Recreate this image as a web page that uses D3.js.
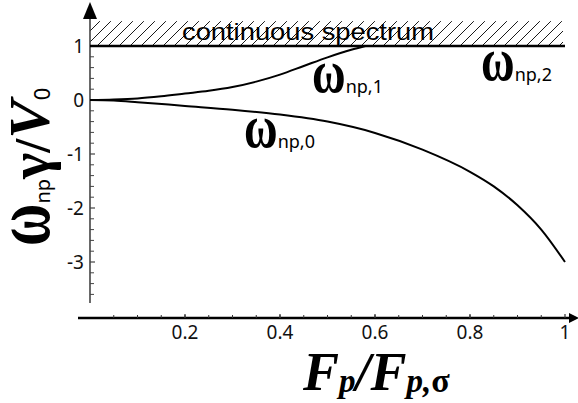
<!DOCTYPE html>
<html><head><meta charset="utf-8">
<script src="https://cdn.jsdelivr.net/npm/d3@7"></script>
<style>body{margin:0;background:#fff}svg{display:block}</style>
</head><body>
<script>
// ---- data ----
const F0 = [0, 0.05, 0.1, 0.2, 0.3, 0.4, 0.5, 0.6, 0.7, 0.8, 0.85, 0.9, 0.95, 1.0];
const w0 = [0, -0.01, -0.04, -0.11, -0.18, -0.27, -0.40, -0.61, -0.92, -1.33, -1.6, -1.95, -2.4, -3.0];
const F1 = [0, 0.05, 0.1, 0.15, 0.2, 0.25, 0.3, 0.35, 0.4, 0.45, 0.5, 0.55, 0.58];
const w1 = [0, 0.01, 0.03, 0.07, 0.12, 0.17, 0.24, 0.34, 0.47, 0.63, 0.79, 0.93, 1.0];
const F2 = [0, 1];
const w2 = [1, 1];
const xTickVals = [0.2, 0.4, 0.6, 0.8, 1];
const xTickLabels = ["0.2", "0.4", "0.6", "0.8", "1"];
const yTickVals = [1, 0, -1, -2, -3];
const yTickLabels = ["1", "0", "-1", "-2", "-3"];
const continuumTop = 1.46;

const W = 578, H = 403;
const svg = d3.select("body").append("svg").attr("width", W).attr("height", H);
const x = d3.scaleLinear().domain([0, 1]).range([90, 565]);
const y = d3.scaleLinear().domain([0, 1]).range([100, 46]);

// hatch pattern
const defs = svg.append("defs");
const pat = defs.append("pattern").attr("id", "hatch").attr("patternUnits", "userSpaceOnUse")
  .attr("width", 11).attr("height", 11);
pat.append("path").attr("d", "M0,11 L11,0 M-2,2 L2,-2 M9,13 L13,9")
  .attr("stroke", "#000").attr("stroke-width", 0.9).attr("fill", "none");
svg.append("rect").attr("x", x(0)).attr("y", y(continuumTop))
  .attr("width", x(1) - x(0) - 2).attr("height", y(1) - y(continuumTop))
  .attr("fill", "url(#hatch)");

svg.append("text").attr("x", 182).attr("y", 40)
  .attr("font-family", "Liberation Sans, Arial, sans-serif").attr("font-size", 24)
  .attr("textLength", 252).attr("lengthAdjust", "spacingAndGlyphs")
  .text("continuous spectrum");

// Y axis
const yMinor = d3.range(-18, 6).map(i => i * 0.2).filter(v => !yTickVals.some(t => Math.abs(t - v) < 1e-6));
const yAx = svg.append("g");
yAx.append("line").attr("x1", 90).attr("x2", 90).attr("y1", y(-3.76)).attr("y2", 16)
  .attr("stroke", "#444").attr("stroke-width", 1.6);
yAx.append("path").attr("d", `M90,2 L83,19 L97,19 Z`).attr("fill", "#000");
yAx.selectAll(".ymin").data(yMinor).join("line")
  .attr("x1", 90).attr("x2", 94).attr("y1", d => y(d)).attr("y2", d => y(d))
  .attr("stroke", "#444").attr("stroke-width", 1);
yAx.selectAll(".ymaj").data(yTickVals).join("line")
  .attr("x1", 90).attr("x2", 95).attr("y1", d => y(d)).attr("y2", d => y(d))
  .attr("stroke", "#444").attr("stroke-width", 1.2);
yAx.selectAll(".ylab").data(yTickVals).join("text")
  .attr("x", 84).attr("y", d => y(d)).attr("dy", "0.36em").attr("text-anchor", "end")
  .attr("font-family", "Noto Sans, Open Sans, sans-serif").attr("font-size", 19).attr("fill", "#111")
  .text((d, i) => yTickLabels[i]);

// X axis
const axY = 318;
const xMinor = d3.range(1, 20).map(i => i * 0.05);
svg.append("line").attr("x1", 78).attr("x2", 572).attr("y1", axY).attr("y2", axY)
  .attr("stroke", "#000").attr("stroke-width", 2.4);
svg.append("path").attr("d", `M579,${axY} L569,${axY-5} L569,${axY+5} Z`).attr("fill", "#000");
svg.selectAll(".xmin").data(xMinor).join("line")
  .attr("x1", d => x(d)).attr("x2", d => x(d)).attr("y1", axY).attr("y2", axY - 3)
  .attr("stroke", "#333").attr("stroke-width", 1);
svg.selectAll(".xmaj").data(xTickVals).join("line")
  .attr("x1", d => x(d)).attr("x2", d => x(d)).attr("y1", axY).attr("y2", axY - 4)
  .attr("stroke", "#333").attr("stroke-width", 1.2);
svg.selectAll(".xlab").data(xTickVals).join("text")
  .attr("x", d => x(d)).attr("y", 339).attr("text-anchor", "middle")
  .attr("font-family", "Noto Sans, Open Sans, sans-serif").attr("font-size", 19).attr("fill", "#111")
  .text((d, i) => xTickLabels[i]);

// curves
const line = d3.line().x(d => x(d[0])).y(d => y(d[1])).curve(d3.curveMonotoneX);
[[F0, w0, 2], [F1, w1, 2], [F2, w2, 2.6]].forEach(([F, w, sw]) => {
  svg.append("path").attr("d", line(F.map((f, i) => [f, w[i]])))
    .attr("fill", "none").attr("stroke", "#000").attr("stroke-width", sw).attr("stroke-linejoin", "round");
});

// curve labels: tall serif omega + sans subscript
function omegaLabel(px, py, sub) {
  const g = svg.append("g").attr("transform", `translate(${px},${py})`);
  const om = g.append("text").attr("transform", "scale(1,1.32)")
    .attr("font-family", "Liberation Serif, Times New Roman, serif")
    .attr("font-size", 46).attr("font-weight", "bold").text("ω");
  const wOm = om.node().getComputedTextLength();
  g.append("text").attr("x", wOm).attr("y", 1)
    .attr("font-family", "Noto Sans, sans-serif").attr("font-size", 18).text(sub);
}
omegaLabel(312, 92, "np,1");
omegaLabel(481, 80, "np,2");
omegaLabel(244, 147, "np,0");

// y-axis title
const ytg = svg.append("g").attr("transform", "translate(49,246) rotate(-90)");
const yOm = ytg.append("text").attr("transform", "scale(1,1.4)")
  .attr("font-family", "Liberation Serif, serif").attr("font-size", 58).attr("font-weight", "bold").text("ω");
const yOmW = yOm.node().getComputedTextLength();
const yt = ytg.append("text").attr("x", yOmW);
yt.append("tspan").attr("font-family", "Noto Sans, sans-serif").attr("font-size", 20).attr("dy", 1).text("np");
yt.append("tspan").attr("font-family", "Liberation Serif, serif").attr("font-size", 56).attr("font-weight", "bold").attr("dy", -1).text("γ");
yt.append("tspan").attr("font-family", "Liberation Serif, serif").attr("font-size", 50).attr("font-weight", "bold").text("/");
yt.append("tspan").attr("font-family", "Liberation Serif, serif").attr("font-size", 58).attr("font-weight", "bold").attr("font-style", "italic").text("V");
yt.append("tspan").attr("font-family", "Noto Sans, sans-serif").attr("font-size", 22).attr("dy", 1).text("0");

// x-axis title
const xt = svg.append("text").attr("x", 303).attr("y", 390)
  .attr("font-family", "Liberation Serif, serif").attr("font-weight", "bold").attr("font-style", "italic");
xt.append("tspan").attr("font-size", 54).text("F");
xt.append("tspan").attr("font-size", 33).attr("dy", 2).text("p");
xt.append("tspan").attr("font-size", 54).attr("dy", -2).text("/");
xt.append("tspan").attr("font-size", 54).text("F");
xt.append("tspan").attr("font-size", 33).attr("dy", 2).text("p,");
xt.append("tspan").attr("font-size", 34).attr("font-style", "normal").text("σ");
</script>
</body></html>
